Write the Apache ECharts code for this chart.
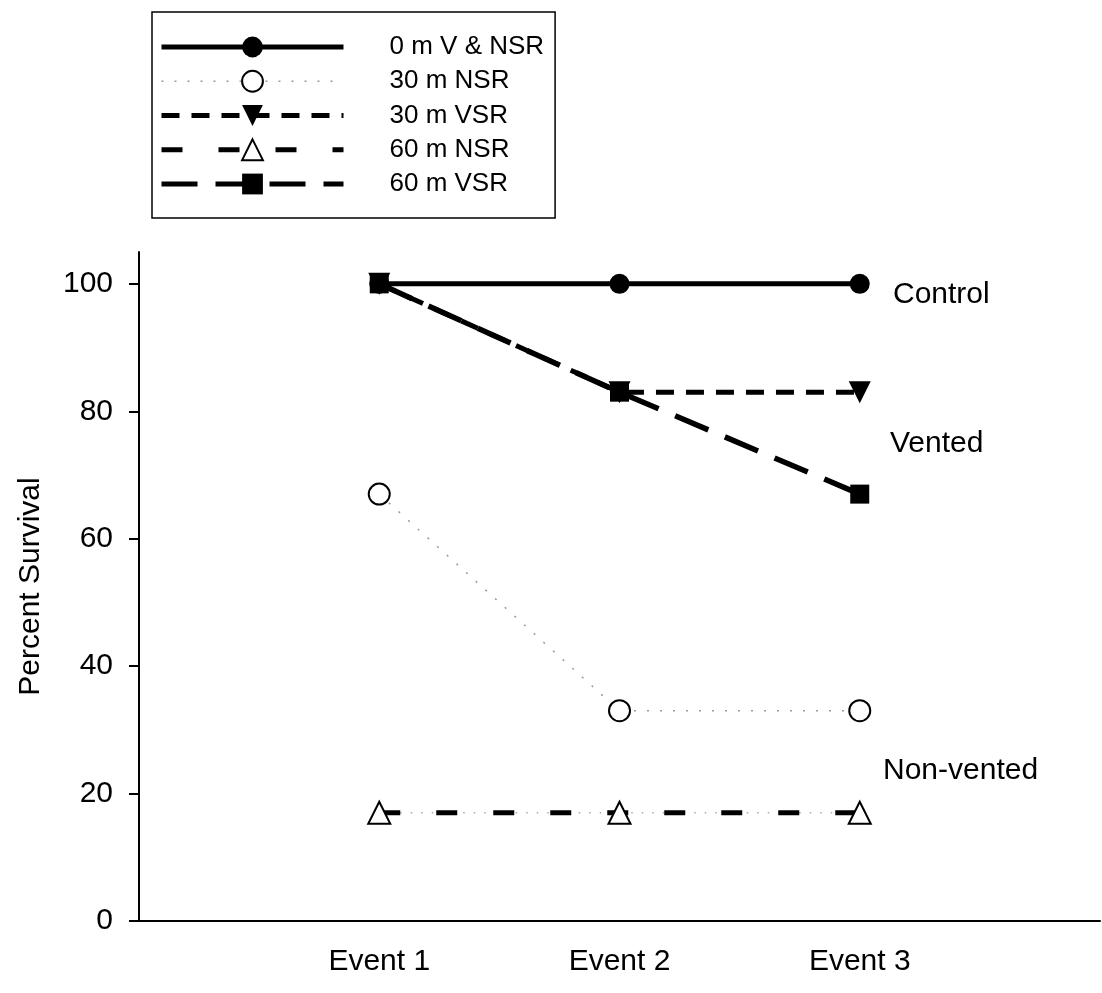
<!DOCTYPE html>
<html>
<head>
<meta charset="utf-8">
<script src="https://cdn.jsdelivr.net/npm/echarts@6/dist/echarts.min.js"></script>
<style>
html,body{margin:0;padding:0;background:#fff;}
#chart{width:1102px;height:993px;}
</style>
</head>
<body>
<div id="chart"></div>
<script>
var categories = ['Event 1', 'Event 2', 'Event 3'];
var yTicks = [0, 20, 40, 60, 80, 100];
var s0mVNSR = [100, 100, 100];
var s30mNSR = [67, 33, 33];
var s30mVSR = [100, 83, 83];
var s60mNSR = [17, 17, 17];
var s60mVSR = [100, 83, 67];
var groupLabels = ['Control', 'Vented', 'Non-vented'];

function pts(arr) { return arr.map(function (v, i) { return [i + 1, v]; }); }

var FONT = 'Liberation Sans, Arial, sans-serif';
var chart = echarts.init(document.getElementById('chart'));
chart.setOption({
  animation: false,
  backgroundColor: '#fff',
  grid: { left: 139, right: 2, top: 252, bottom: 72, containLabel: false },
  legend: {
    orient: 'vertical',
    left: 152, top: 12,
    padding: [22, 11, 21, 7],
    borderColor: '#000', borderWidth: 1.5,
    itemWidth: 182, itemHeight: 26, itemGap: 8.25,
    lineStyle: { width: 5 },
    textStyle: { fontFamily: FONT, fontSize: 26, color: '#000', padding: [0, 0, 0, 41] },
    data: [
      { name: '0 m V & NSR' },
      { name: '30 m NSR', lineStyle: { width: 1.5 } },
      { name: '30 m VSR' },
      { name: '60 m NSR' },
      { name: '60 m VSR' }
    ]
  },
  xAxis: {
    type: 'value', min: 0, max: 4, interval: 1,
    axisLine: { show: true, lineStyle: { color: '#000', width: 2 } },
    axisTick: { show: false },
    splitLine: { show: false },
    axisLabel: {
      fontFamily: FONT, fontSize: 30, color: '#000', margin: 26,
      customValues: [1, 2, 3],
      formatter: function (v) { return categories[v - 1] || ''; }
    }
  },
  yAxis: {
    type: 'value', min: 0, max: 105,
    name: 'Percent Survival', nameLocation: 'middle', nameGap: 93,
    nameTextStyle: { fontFamily: FONT, fontSize: 30, color: '#000' },
    axisLine: { show: true, lineStyle: { color: '#000', width: 2 } },
    axisTick: { show: true, length: 10, lineStyle: { color: '#000', width: 2 }, customValues: yTicks },
    splitLine: { show: false },
    axisLabel: { fontFamily: FONT, fontSize: 30, color: '#000', margin: 26, customValues: yTicks }
  },
  graphic: [
    { type: 'text', left: 893, top: 280, style: { text: groupLabels[0], font: '30px ' + FONT, fill: '#000' } },
    { type: 'text', left: 890, top: 429, style: { text: groupLabels[1], font: '30px ' + FONT, fill: '#000' } },
    { type: 'text', left: 883, top: 756, style: { text: groupLabels[2], font: '30px ' + FONT, fill: '#000' } }
  ],
  series: [
    {
      name: '30 m NSR', type: 'line', data: pts(s30mNSR), z: 2,
      symbol: 'emptyCircle', symbolSize: 21,
      lineStyle: { color: '#999', width: 1.5, type: [2, 11] },
      itemStyle: { color: '#000', borderColor: '#000', borderWidth: 2 }
    },
    {
      name: '60 m NSR', type: 'line', data: pts(s60mNSR), z: 3,
      symbol: 'emptyTriangle', symbolSize: 22,
      lineStyle: { color: '#000', width: 5, type: [21, 36] },
      itemStyle: { color: '#000', borderColor: '#000', borderWidth: 2 }
    },
    {
      name: '60 m NSR', type: 'line', data: pts(s60mNSR), z: 1,
      symbol: 'none',
      lineStyle: { color: '#aaa', width: 1.5, type: [1.5, 9] }
    },
    {
      name: '0 m V & NSR', type: 'line', data: pts(s0mVNSR), z: 4,
      symbol: 'circle', symbolSize: 20,
      lineStyle: { color: '#000', width: 5, type: 'solid' },
      itemStyle: { color: '#000' }
    },
    {
      name: '30 m VSR', type: 'line', data: pts(s30mVSR), z: 5,
      symbol: 'triangle', symbolRotate: 180, symbolSize: 22,
      lineStyle: { color: '#000', width: 5, type: [18, 12] },
      itemStyle: { color: '#000' }
    },
    {
      name: '60 m VSR', type: 'line', data: pts(s60mVSR), z: 6,
      symbol: 'rect', symbolSize: 19,
      lineStyle: { color: '#000', width: 5.5, type: [36, 18] },
      itemStyle: { color: '#000' }
    }
  ]
});
</script>
</body>
</html>
